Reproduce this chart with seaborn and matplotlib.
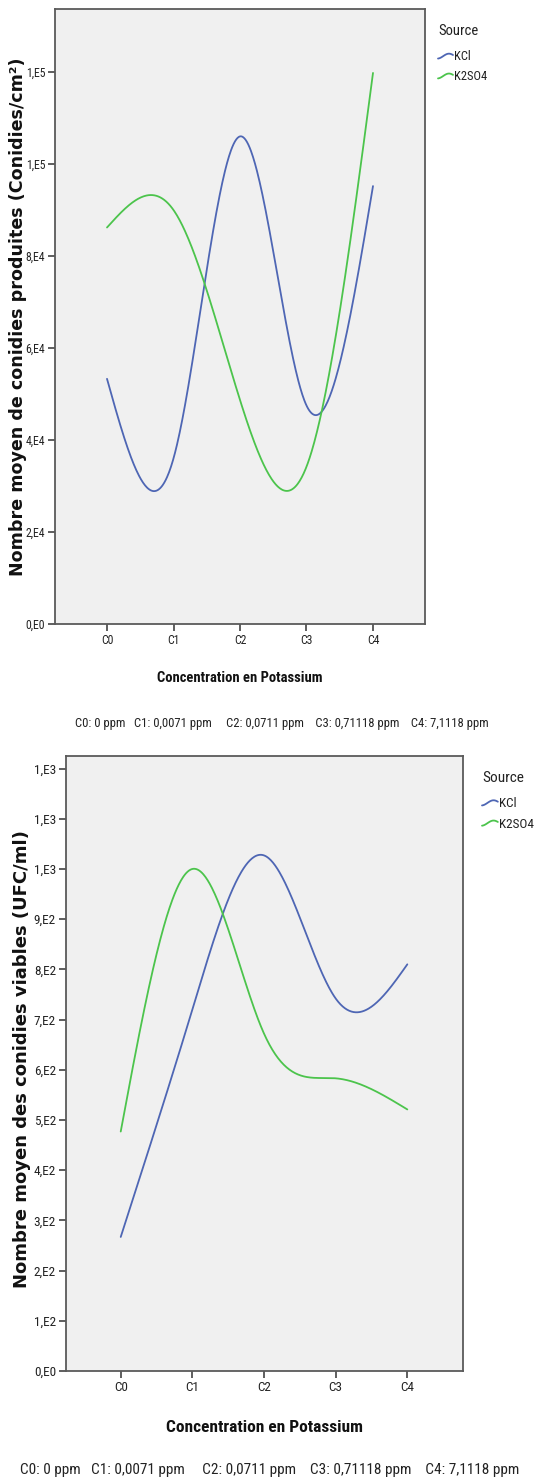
import numpy as np
import pandas as pd
import matplotlib
matplotlib.use("Agg")
import matplotlib.pyplot as plt
import seaborn as sns
from matplotlib import font_manager as fm
from matplotlib.legend_handler import HandlerBase
from matplotlib.lines import Line2D

# ---------------- data ----------------
categories = ["C0", "C1", "C2", "C3", "C4"]
sources = ["KCl", "K2SO4"]
conidies_kcl = [53300, 36000, 106000, 47500, 95200]
conidies_k2so4 = [86200, 90000, 48700, 34200, 119800]
viables_kcl = [267, 720, 1027, 742, 810]
viables_k2so4 = [477, 1000, 672, 583, 521]

yticks_top = [0, 20000, 40000, 60000, 80000, 100000, 120000]
yticklabels_top = ["0,E0", "2,E4", "4,E4", "6,E4", "8,E4", "1,E5", "1,E5"]
yticks_bottom = [0, 100, 200, 300, 400, 500, 600, 700, 800, 900, 1000, 1100, 1200]
yticklabels_bottom = ["0,E0", "1,E2", "2,E2", "3,E2", "4,E2", "5,E2", "6,E2",
                      "7,E2", "8,E2", "9,E2", "1,E3", "1,E3", "1,E3"]

ylabel_top = "Nombre moyen de conidies produites (Conidies/cm²)"
ylabel_bottom = "Nombre moyen des conidies viables (UFC/ml)"
xlabel = "Concentration en Potassium"
footnote = "C0: 0 ppm   C1: 0,0071 ppm     C2: 0,0711 ppm    C3: 0,71118 ppm    C4: 7,1118 ppm"

colors = {"KCl": "#4E66B4", "K2SO4": "#4CC44C"}

# ---------------- fonts ----------------
names = {f.name for f in fm.fontManager.ttflist}
narrow = None
for cand in ["Liberation Sans Narrow", "Arial Narrow", "Noto Sans Condensed",
             "Roboto Condensed", "Open Sans Condensed", "Liberation Sans"]:
    if cand in names:
        narrow = cand
        break
if narrow is None:
    narrow = "DejaVu Sans"

sns.set_theme(style="white")
plt.rcParams["font.family"] = [narrow, "DejaVu Sans"]


def spline_curve(values, n=400):
    """natural cubic spline through the category points (for smooth drawing)"""
    y = np.asarray(values, float)
    m = len(y)
    A = np.zeros((m, m))
    r = np.zeros(m)
    A[0, 0] = A[-1, -1] = 1
    for i in range(1, m - 1):
        A[i, i - 1] = 1
        A[i, i] = 4
        A[i, i + 1] = 1
        r[i] = 3 * (y[i + 1] - 2 * y[i] + y[i - 1])
    c = np.linalg.solve(A, r)
    b = (y[1:] - y[:-1]) - (2 * c[:-1] + c[1:]) / 3
    d = (c[1:] - c[:-1]) / 3
    xs = np.linspace(0, m - 1, n)
    idx = np.clip(np.floor(xs).astype(int), 0, m - 2)
    t = xs - idx
    ys = y[idx] + b[idx] * t + c[idx] * t ** 2 + d[idx] * t ** 3
    return xs, ys


def make_df(kcl, k2so4):
    frames = []
    for src, vals in zip(sources, [kcl, k2so4]):
        xs, ys = spline_curve(vals)
        frames.append(pd.DataFrame({"x": xs, "y": ys, "Source": src}))
    return pd.concat(frames, ignore_index=True)


class WaveHandler(HandlerBase):
    def create_artists(self, legend, orig_handle, xdescent, ydescent,
                       width, height, fontsize, trans):
        t = np.linspace(0, 1, 40)
        xs = -xdescent + t * width
        ys = -ydescent + height / 2 + height * 0.28 * np.sin(np.pi * (1.3 * t - 0.45))
        ln = Line2D(xs, ys, color=orig_handle.get_color(), lw=1.3, transform=trans)
        return [ln]


W, H = 538, 1483
fig = plt.figure(figsize=(W / 100, H / 100), dpi=100)
fig.patch.set_facecolor("white")

specs = [
    dict(rect=[55 / W, 1 - 624 / H, 370 / W, 615 / H], data=(conidies_kcl, conidies_k2so4),
         ylim=(0, 133700), xlim=(-0.782, 4.782), yt=yticks_top, ytl=yticklabels_top,
         ylabel=ylabel_top, ylab_xy=(18, 317), ylab_size=12.6,
         xlab_xy=(240, 678), xlab_size=10.5, foot_xy=(282, 723), foot_size=9.1,
         tick_size=8.5, leg_xy=(438, 24), leg_size=9, leg_title=10.5),
    dict(rect=[65.7 / W, 1 - 1371 / H, 397 / W, 615 / H], data=(viables_kcl, viables_k2so4),
         ylim=(0, 1225), xlim=(-0.768, 4.773), yt=yticks_bottom, ytl=yticklabels_bottom,
         ylabel=ylabel_bottom, ylab_xy=(22, 1059), ylab_size=13.0,
         xlab_xy=(264, 1427), xlab_size=12.5, foot_xy=(270, 1470), foot_size=11.0,
         tick_size=9.5, leg_xy=(482, 771), leg_size=9.5, leg_title=11),
]

for s in specs:
    ax = fig.add_axes(s["rect"])
    ax.set_facecolor("#F0F0F0")
    df = make_df(*s["data"])
    sns.lineplot(data=df, x="x", y="y", hue="Source", palette=colors,
                 hue_order=sources, ax=ax, lw=1.3, legend=False, sort=False,
                 estimator=None)
    ax.set_xlim(*s["xlim"])
    ax.set_ylim(*s["ylim"])
    ax.set_xticks(range(len(categories)))
    ax.set_xticklabels(categories, fontsize=s["tick_size"])
    ax.set_yticks(s["yt"])
    ax.set_yticklabels(s["ytl"], fontsize=s["tick_size"])
    ax.set_xlabel("")
    ax.set_ylabel("")
    for sp in ax.spines.values():
        sp.set_color("#5A5A5A")
        sp.set_linewidth(1.3)
        sp.set_visible(True)
    ax.tick_params(axis="both", direction="out", length=5, width=1.1,
                   color="#333333", labelcolor="#222222", pad=2,
                   left=True, bottom=True)

    fig.text(s["ylab_xy"][0] / W, 1 - s["ylab_xy"][1] / H, s["ylabel"],
             rotation=90, ha="center", va="center", fontsize=s["ylab_size"],
             fontweight="bold", family=["DejaVu Sans"], color="#111111")
    fig.text(s["xlab_xy"][0] / W, 1 - s["xlab_xy"][1] / H, xlabel,
             ha="center", va="center", fontsize=s["xlab_size"], fontweight="bold",
             color="#111111")
    fig.text(s["foot_xy"][0] / W, 1 - s["foot_xy"][1] / H, footnote,
             ha="center", va="center", fontsize=s["foot_size"], color="#222222")

    handles = [Line2D([], [], color=colors[src]) for src in sources]
    leg = fig.legend(handles, sources, title="Source", loc="upper left",
                     bbox_to_anchor=(s["leg_xy"][0] / W, 1 - s["leg_xy"][1] / H),
                     frameon=False, fontsize=s["leg_size"], title_fontsize=s["leg_title"],
                     handlelength=1.2, handletextpad=0.1, labelspacing=0.55,
                     borderaxespad=0, borderpad=0, alignment="left",
                     handler_map={Line2D: WaveHandler()})
    leg.get_title().set_color("#222222")
    for t in leg.get_texts():
        t.set_color("#222222")
    leg._legend_box.sep = 9

fig.savefig("out.png", dpi=100)
